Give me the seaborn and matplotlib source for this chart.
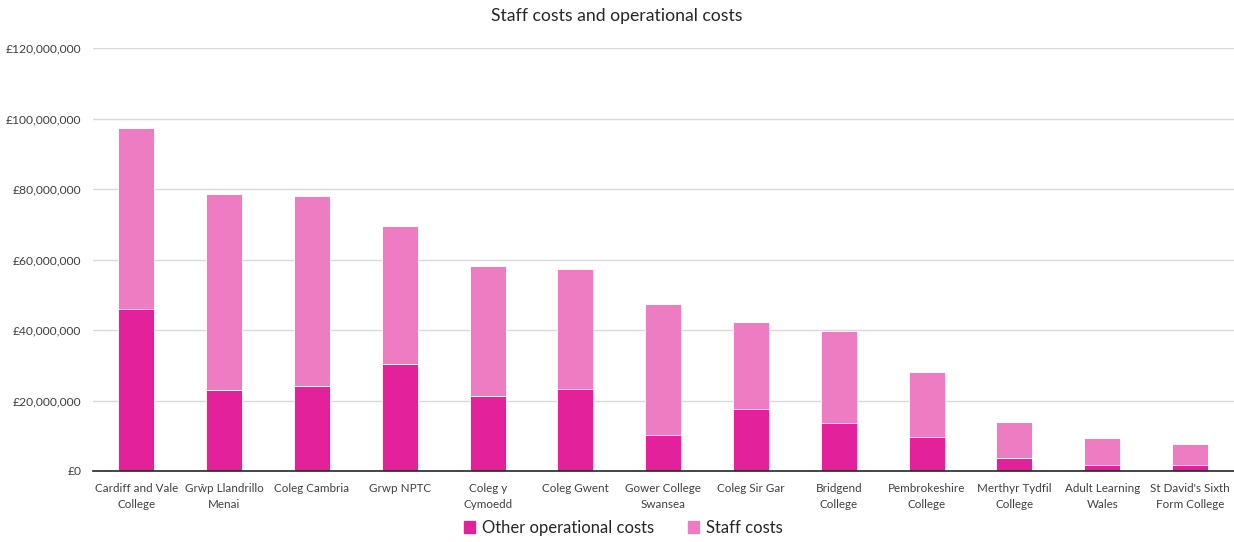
import pandas as pd
import matplotlib.pyplot as plt
import seaborn as sns
from matplotlib.patches import Patch
from matplotlib.ticker import FuncFormatter

# Values (GBP millions)
colleges = ["Cardiff and Vale\nCollege", "Grŵp Llandrillo\nMenai", "Coleg Cambria", "Grwp NPTC",
            "Coleg y\nCymoedd", "Coleg Gwent", "Gower College\nSwansea", "Coleg Sir Gar",
            "Bridgend\nCollege", "Pembrokeshire\nCollege", "Merthyr Tydfil\nCollege",
            "Adult Learning\nWales", "St David's Sixth\nForm College"]
other_costs = [45.9, 23.1, 24.1, 30.4, 21.3, 23.3, 10.1, 17.7, 13.5, 9.6, 3.6, 1.6, 1.6]
staff_costs = [51.4, 55.4, 54.0, 39.2, 36.8, 34.0, 37.4, 24.7, 26.3, 18.5, 10.4, 7.7, 6.1]

df = pd.DataFrame({"college": colleges,
                   "other": [v * 1e6 for v in other_costs],
                   "staff": [v * 1e6 for v in staff_costs]})
df["total"] = df["other"] + df["staff"]

dark_pink = "#E3219B"
light_pink = "#EE7CC3"

sns.set_style("white")
plt.rcParams["font.family"] = ["Lato", "DejaVu Sans"]

fig = plt.figure(figsize=(12.34, 5.42), dpi=100)
ax = fig.add_axes([0.075, 0.131, 0.925, 0.780])

# stacked bars: total first, then the lower segment over it
sns.barplot(data=df, x="college", y="total", color=light_pink, width=0.41,
            saturation=1, edgecolor="white", linewidth=0.6, ax=ax)
sns.barplot(data=df, x="college", y="other", color=dark_pink, width=0.41,
            saturation=1, edgecolor="white", linewidth=0.6, ax=ax)

ax.set_ylim(0, 120e6)
ax.set_yticks(range(0, 120000001, 20000000))
ax.yaxis.set_major_formatter(FuncFormatter(lambda v, p: f"£{int(v):,}"))
ax.set_xlim(-0.5, len(colleges) - 0.5)
ax.set_xlabel("")
ax.set_ylabel("")
ax.grid(axis="y", color="#D9D9D9", linewidth=1)
ax.set_axisbelow(True)
for s in ["top", "right", "left"]:
    ax.spines[s].set_visible(False)
ax.spines["bottom"].set_color("#262626")
ax.spines["bottom"].set_linewidth(1.2)
ax.tick_params(axis="y", length=0, labelsize=8.7, colors="#404040", pad=8)
ax.tick_params(axis="x", length=0, labelsize=8.4, colors="#404040", pad=9)
for lbl in ax.get_xticklabels():
    lbl.set_linespacing(1.45)

fig.suptitle("Staff costs and operational costs", y=0.985, fontsize=12.7, color="#262626")

handles = [Patch(color=dark_pink, label="Other operational costs"),
           Patch(color=light_pink, label="Staff costs")]
fig.legend(handles=handles, loc="center", bbox_to_anchor=(0.505, 0.026), ncol=2,
           frameon=False, fontsize=12, handlelength=0.7, handleheight=0.7,
           columnspacing=2.0, handletextpad=0.4, labelcolor="#262626",
           borderpad=0.1)

plt.savefig("out.png", dpi=100)
